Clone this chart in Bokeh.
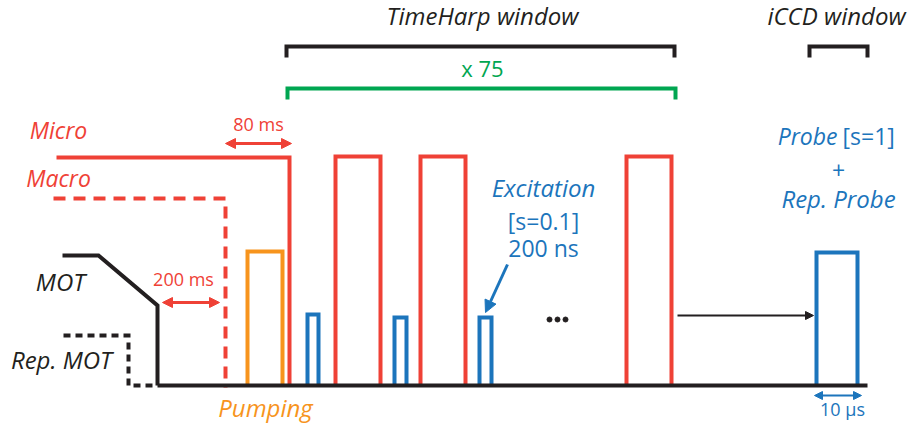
from bokeh.plotting import figure
from bokeh.models import Range1d, Arrow, NormalHead, ColumnDataSource
from bokeh.core.properties import value
from bokeh.embed import file_html
from bokeh.resources import INLINE

# ---- colours ----
RED = "#EF4136"
ORANGE = "#F7941D"
BLUE = "#1C75BC"
GREEN = "#00A651"
BLACK = "#231F20"
FONT = "Open Sans"

# ---- signal traces (diagram units) ----
BASE = 385
baseline_x = [157, 867]
mot_x = [62, 98, 157, 157]
mot_y = [255, 255, 305, 385]
rep_mot_x = [63, 128, 128, 157]
rep_mot_y = [335, 335, 385, 385]
macro_x = [53, 225, 225]
macro_y = [198, 198, 387]
micro_x = [56, 289, 289]
micro_y = [157, 157, 385]

pump_left, pump_right, pump_top = [247], [282], [251]
red_left = [335, 420, 626]
red_right = [380, 465, 671]
red_top = [156, 156, 156]
blue_left = [307, 394, 479, 816]
blue_right = [318, 406, 491, 857]
blue_top = [314, 317, 317, 252]

dots_x = [549, 557, 565]
dots_y = [319, 319, 319]

# brackets: left, right, top, bottom
brk_left = [286, 809]
brk_right = [674, 867]
brk_top = [46, 46]
brk_bot = [57, 57]
green_left, green_right, green_top, green_bot = 287, 675, 88, 99

# arrows: x0, y0, x1, y1
arr80 = (225, 143, 291, 143)
arr200 = (162, 302, 219, 302)
arr_exc = (507, 264, 485, 312)
arr_black = (677, 315, 813, 315)
arr10 = (814, 395, 861, 395)

# ---- texts (x, baseline y) ----
it_black_txt = ["TimeHarp window", "iCCD window", "MOT", "Rep. MOT"]
it_black_x = [482, 836, 60, 61]
it_black_y = [25, 25, 291, 369]

it_red_txt = ["Micro", "Macro"]
it_red_x = [58, 58]
it_red_y = [139, 187]

red_txt = ["80 ms", "200 ms"]
red_x = [258, 183]
red_y = [133, 288]

it_blue_txt = ["Excitation", "Rep. Probe"]
it_blue_x = [543, 838]
it_blue_y = [197, 208]

blue_txt = ["[s=0.1]", "200 ns", "+"]
blue_x = [543, 543, 838]
blue_y = [230, 257, 180]

W, H = 910, 428
p = figure(width=W, height=H, output_backend="svg", toolbar_location=None,
           x_range=Range1d(0, W), y_range=Range1d(H, 0),
           min_border=0, outline_line_color=None)
p.axis.visible = False
p.grid.visible = False
p.background_fill_color = "white"
p.border_fill_color = "white"

LW = 4

# rep MOT dashed and MOT
p.line(rep_mot_x, rep_mot_y, line_color=BLACK, line_width=LW, line_dash="7 5", line_join="miter")
p.line(mot_x, mot_y, line_color=BLACK, line_width=LW, line_join="miter")
# macro dashed
p.line(macro_x, macro_y, line_color=RED, line_width=LW, line_dash="12 8", line_join="miter")

# pulses
def pulse_lines(lefts, rights, tops):
    xs = [[l, l, r, r] for l, r in zip(lefts, rights)]
    ys = [[BASE, t, t, BASE] for t in tops]
    return xs, ys

xs, ys = pulse_lines(pump_left, pump_right, pump_top)
p.multi_line(xs, ys, line_color=ORANGE, line_width=LW, line_join="miter")
xs, ys = pulse_lines(blue_left, blue_right, blue_top)
p.multi_line(xs, ys, line_color=BLUE, line_width=LW, line_join="miter")
xs, ys = pulse_lines(red_left, red_right, red_top)
p.multi_line(xs, ys, line_color=RED, line_width=LW, line_join="miter")
p.line(micro_x, micro_y, line_color=RED, line_width=LW, line_join="miter")

# baseline
p.line(baseline_x, [BASE, BASE], line_color=BLACK, line_width=LW)

# brackets
bx = [[l, l, r, r] for l, r in zip(brk_left, brk_right)]
by = [[b, t, t, b] for t, b in zip(brk_top, brk_bot)]
p.multi_line(bx, by, line_color=BLACK, line_width=LW, line_join="miter")
p.line([green_left, green_left, green_right, green_right],
       [green_bot, green_top, green_top, green_bot], line_color=GREEN, line_width=LW, line_join="miter")

# dots
p.scatter(dots_x, dots_y, size=5, color=BLACK)

# arrows
def add_arrow(a, color, lw, size, both=False):
    x0, y0, x1, y1 = a
    end = NormalHead(size=size, fill_color=color, line_color=color, line_width=1)
    start = NormalHead(size=size, fill_color=color, line_color=color, line_width=1) if both else None
    p.add_layout(Arrow(x_start=x0, y_start=y0, x_end=x1, y_end=y1, line_color=color,
                       line_width=lw, end=end, start=start))

add_arrow(arr80, RED, 3, 10, both=True)
add_arrow(arr200, RED, 3, 10, both=True)
add_arrow(arr_exc, BLUE, 3, 12)
add_arrow(arr_black, BLACK, 2, 8)
add_arrow(arr10, BLUE, 2, 8, both=True)

# texts
TEXT_DY = -10  # renderer places alphabetic baseline slightly low

def txt(x, y, t, color, size, style="normal", align="center"):
    src = ColumnDataSource(dict(x=x, y=[v + TEXT_DY for v in y], t=t))
    p.text("x", "y", text="t", source=src, text_color=color, text_font=value(FONT),
           text_font_size=size, text_font_style=style, text_align=align,
           text_baseline="alphabetic")

txt(it_black_x, it_black_y, it_black_txt, BLACK, "24px", "italic")
txt(it_red_x, it_red_y, it_red_txt, RED, "23px", "italic")
txt(red_x, red_y, red_txt, RED, "18px")
txt([482], [77], ["x 75"], GREEN, "22px")
txt(it_blue_x, it_blue_y, it_blue_txt, BLUE, "24px", "italic")
txt(blue_x, blue_y, blue_txt, BLUE, "23px")
txt([837], [145], ["Probe"], BLUE, "23px", "italic", "right")
txt([842], [145], ["[s=1]"], BLUE, "23px", "normal", "left")
txt([265], [417], ["Pumping"], ORANGE, "24px", "italic")
txt([842], [418], ["10 µs"], BLUE, "18px")

open("out.html", "w").write(file_html(p, INLINE))
